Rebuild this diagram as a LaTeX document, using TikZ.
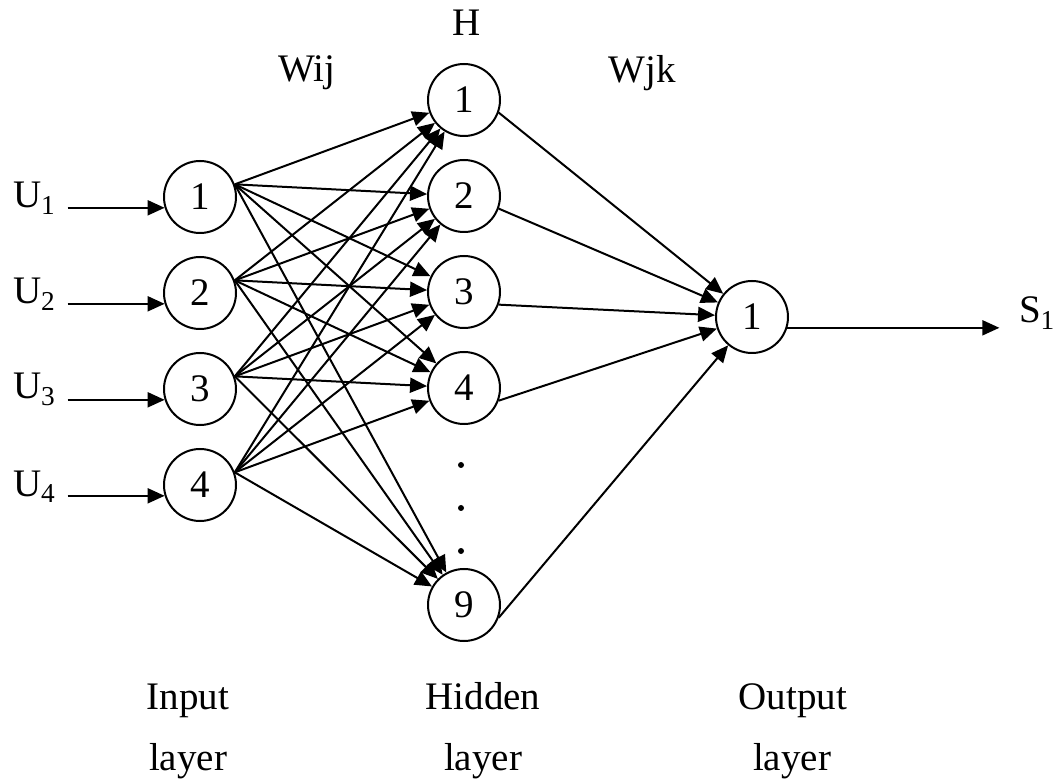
\documentclass[tikz,border=0pt]{standalone}
\usepackage{fontspec}
\setmainfont{Liberation Serif}
\usepackage{tikz}
\usetikzlibrary{positioning}
\usetikzlibrary{arrows.meta}
\usetikzlibrary{calc}
\tikzset {
  node distance={48pt},
  % circled neuron
  neuron/.style = {draw, circle, minimum size=36pt, inner sep=0pt},
  % plain text labels
  tag/.style = {inner sep=0pt, anchor=base},
  % dots between the hidden neurons
  dot/.style = {fill, circle, minimum size=3pt, inner sep=0pt},
  % weighted connections
  weight/.style = {-{Triangle[length=8.5pt, width=7.5pt]}},
}

\begin{document}
\begin{tikzpicture}[x=0.5pt, y=-0.5pt, line width=1pt, font=\fontsize{19.5pt}{23pt}\selectfont]
      \useasboundingbox (0,0) rectangle (1055,780);

      % input layer
      \node[neuron] (i1) at (200,197) {1};
      \node[neuron] (i2) [below of=i1] {2};
      \node[neuron] (i3) [below of=i2] {3};
      \node[neuron] (i4) [below of=i3] {4};

      % hidden layer
      \node[neuron] (h1) at (464,100) {1};
      \node[neuron] (h2) [below of=h1] {2};
      \node[neuron] (h3) [below of=h2] {3};
      \node[neuron] (h4) [below of=h3] {4};
      \node[neuron] (h9) [below of=h4, node distance=108.5pt] {9};

      \node[dot] (d1) at (461,465) {};
      \node[dot] (d2) [below of=d1, node distance=21.5pt] {};
      \node[dot] (d3) [below of=d2, node distance=21.5pt] {};

      % output layer
      \node[neuron] (o1) at (752,317) {1};

      % labels
      \node[tag] (hh) at (467,36) {H};
      \node[tag] (wij) at (307,82) {Wij};
      \node[tag] (wjk) at (642,83) {Wjk};

      \node[tag] (inp) at (188,709) {Input};
      \node[tag] (inpl) at (188,770) {layer};
      \node[tag] (hid) at (483,709) {Hidden};
      \node[tag] (hidl) at (483,770) {layer};
      \node[tag] (out) at (793,709) {Output};
      \node[tag] (outl) at (792,770) {layer};

      \node[tag, anchor=base west] (u1) at (12,208) {U\textsubscript{1}};
      \node[tag, anchor=base west] (u2) at (12,304) {U\textsubscript{2}};
      \node[tag, anchor=base west] (u3) at (12,399) {U\textsubscript{3}};
      \node[tag, anchor=base west] (u4) at (12,496) {U\textsubscript{4}};
      \node[tag, anchor=base west] (s1) at (1018,323) {S\textsubscript{1}};

      % inputs and output
      \coordinate (a1) at ($(i1.197)+(-97,0)$);
      \coordinate (a2) at ($(i2.197)+(-97,0)$);
      \coordinate (a3) at ($(i3.197)+(-97,0)$);
      \coordinate (a4) at ($(i4.197)+(-97,0)$);
      \coordinate (e1) at ($(o1.-17)+(212,0)$);

      \draw[weight] (a1) -- (i1.197);
      \draw[weight] (a2) -- (i2.197);
      \draw[weight] (a3) -- (i3.197);
      \draw[weight] (a4) -- (i4.197);
      \draw[weight] (o1.-17) -- (e1);

      % Wij
      \draw[weight] (i1.20) -- (h1); \draw[weight] (i1.20) -- (h2); \draw[weight] (i1.20) -- (h3); \draw[weight] (i1.20) -- (h4); \draw[weight] (i1.20) -- (h9);
      \draw[weight] (i2.20) -- (h1); \draw[weight] (i2.20) -- (h2); \draw[weight] (i2.20) -- (h3); \draw[weight] (i2.20) -- (h4); \draw[weight] (i2.20) -- (h9);
      \draw[weight] (i3.20) -- (h1); \draw[weight] (i3.20) -- (h2); \draw[weight] (i3.20) -- (h3); \draw[weight] (i3.20) -- (h4); \draw[weight] (i3.20) -- (h9);
      \draw[weight] (i4.20) -- (h1); \draw[weight] (i4.20) -- (h2); \draw[weight] (i4.20) -- (h3); \draw[weight] (i4.20) -- (h4); \draw[weight] (i4.20) -- (h9);

      % Wjk
      \draw[weight] (h1.-20) -- (o1);
      \draw[weight] (h2.-20) -- (o1);
      \draw[weight] (h3.-20) -- (o1);
      \draw[weight] (h4.-20) -- (o1);
      \draw[weight] (h9.-20) -- (o1);
    \end{tikzpicture}
\end{document}
